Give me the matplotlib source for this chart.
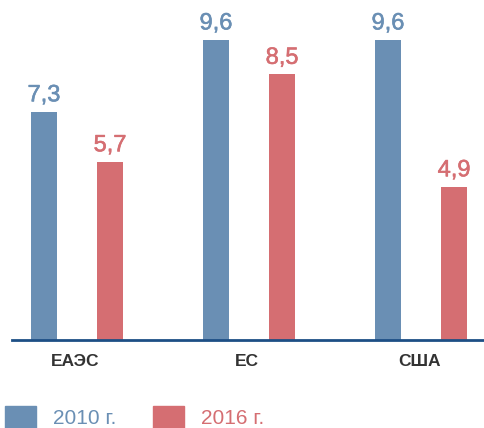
import numpy as np
import matplotlib.pyplot as plt
import matplotlib.patheffects as pe
from matplotlib.patches import Patch

categories = ['ЕАЭС', 'ЕС', 'США']
v2010 = [7.3, 9.6, 9.6]
v2016 = [5.7, 8.5, 4.9]
labels = ['2010 г.', '2016 г.']

blue = '#6a8fb4'
red = '#d56e72'
plt.rcParams['font.family'] = ['Liberation Sans', 'DejaVu Sans']

fig = plt.figure(figsize=(4.85, 4.28), dpi=100)
ax = fig.add_axes([12/485, 88/428, 473/485, 340/428])

x = np.arange(len(categories))
w = 0.151
off = 0.192
b1 = ax.bar(x - off, v2010, w, color=blue)
b2 = ax.bar(x + off, v2016, w, color=red)

for bars, vals, c in [(b1, v2010, blue), (b2, v2016, red)]:
    for b, v in zip(bars, vals):
        ax.annotate(f'{v:.1f}'.replace('.', ','), (b.get_x() + b.get_width()/2, v),
                    xytext=(0, 4), textcoords='offset points',
                    ha='center', va='bottom', fontsize=17, color=c,
                    path_effects=[pe.withStroke(linewidth=0.4, foreground=c)])

ax.set_xlim(-0.378, -0.378 + 473/172)
ax.set_ylim(0, 340/31.25)
for s in ['top', 'right', 'left']:
    ax.spines[s].set_visible(False)
ax.spines['bottom'].set_color('#1d4f85')
ax.spines['bottom'].set_linewidth(2)
ax.set_yticks([])
ax.set_xticks(x - 0.01)
ax.set_xticklabels(categories, fontsize=12.5, fontweight='bold', color='#333333')
ax.tick_params(axis='x', length=0, pad=10)

handles = [Patch(color=blue), Patch(color=red)]
leg = fig.legend(handles, labels, loc='lower left', bbox_to_anchor=(5/485, 0),
                 ncol=2, frameon=False, fontsize=15, handlelength=1.5, handleheight=1.2,
                 handletextpad=0.8, columnspacing=1.75, borderaxespad=0, borderpad=0)
for t, c in zip(leg.get_texts(), [blue, red]):
    t.set_color(c)

fig.savefig('out.png', dpi=100)
